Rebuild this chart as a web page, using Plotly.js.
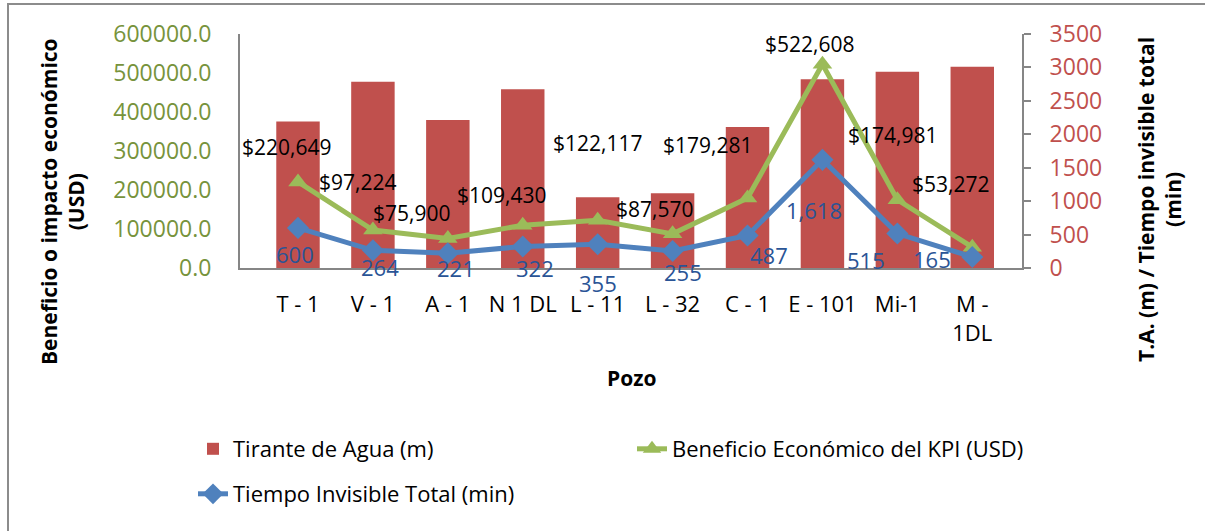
<!DOCTYPE html>
<html>
<head>
<meta charset="utf-8">
<script src="https://cdn.plot.ly/plotly-3.0.1.min.js"></script>
<style>html,body{margin:0;padding:0;background:#fff;}#chart{width:1205px;height:531px;}</style>
</head>
<body>
<div id="chart"></div>
<script>
// ---- data ----
const categories = ["T - 1", "V - 1", "A - 1", "N 1 DL", "L - 11", "L - 32", "C - 1", "E - 101", "Mi-1", "M -<br>1DL"];
const tiranteAgua = [2190, 2787, 2214, 2672, 1057, 1117, 2109, 2822, 2937, 3011];
const beneficio = [220649, 97224, 75900, 109430, 122117, 87570, 179281, 522608, 174981, 53272];
const tiempoInvisible = [600, 264, 221, 322, 355, 255, 487, 1618, 515, 165];
const leftTicks = [0, 100000, 200000, 300000, 400000, 500000, 600000];
const rightTicks = [0, 500, 1000, 1500, 2000, 2500, 3000, 3500];

// ---- label offsets (px) ----
const greenShiftX = [-11, -15, -36, -21, 0, -18, -40, -12, -4, -22];
const greenShiftY = [35, 48, 25, 30, 77, 25, 53, 20, 65, 63];
const blueShiftX = [-3, 7, 8, 12, 0, 10, 21, -8, -31, -40];
const blueShiftY = [-26, -17, -15, -22, -39, -21, -20, -50, -26, -2];

const FONT = "Open Sans, Liberation Sans, sans-serif";
const fmtUSD = v => "$" + v.toLocaleString("en-US");
const fmtNum = v => v.toLocaleString("en-US");

const traces = [
  {type: "bar", name: "Tirante de Agua (m)", x: categories, y: tiranteAgua, yaxis: "y",
   marker: {color: "#C0504D"}, legend: "legend", hoverinfo: "skip"},
  {type: "scatter", mode: "lines+markers", name: "Beneficio Económico del KPI (USD)", x: categories, y: beneficio, yaxis: "y2",
   line: {color: "#9BBB59", width: 5}, marker: {symbol: "triangle-up", size: 17, color: "#9BBB59"}, legend: "legend2"},
  {type: "scatter", mode: "lines+markers", name: "Tiempo Invisible Total (min)", x: categories, y: tiempoInvisible, yaxis: "y3",
   line: {color: "#4F81BD", width: 5}, marker: {symbol: "diamond", size: 17, color: "#4F81BD"}, legend: "legend3"}
];

const annotations = [];
categories.forEach((c, i) => {
  annotations.push({x: c, y: beneficio[i], xref: "x", yref: "y2", text: fmtUSD(beneficio[i]), showarrow: false,
    xanchor: "center", yanchor: "middle",
    xshift: greenShiftX[i], yshift: greenShiftY[i], font: {family: FONT, size: 21, color: "#000"}});
});
categories.forEach((c, i) => {
  annotations.push({x: c, y: tiempoInvisible[i], xref: "x", yref: "y3", text: fmtNum(tiempoInvisible[i]), showarrow: false,
    xanchor: "center", yanchor: "middle",
    xshift: blueShiftX[i], yshift: blueShiftY[i], font: {family: FONT, size: 22, color: "#2A5496"}});
});
// axis titles
annotations.push({xref: "paper", yref: "paper", x: (62 - 240) / 782, y: (268 - 202) / 234, xanchor: "center", yanchor: "middle",
  text: "<b>Beneficio o impacto económico<br>(USD)</b>",
  textangle: -90, showarrow: false, font: {family: FONT, size: 21, color: "#000"}});
annotations.push({xref: "paper", yref: "paper", x: (1160 - 240) / 782, y: (268 - 200) / 234, xanchor: "center", yanchor: "middle",
  text: "<b>T.A. (m) / Tiempo invisible total<br>(min)</b>",
  textangle: -90, showarrow: false, font: {family: FONT, size: 21, color: "#000"}});
annotations.push({xref: "paper", yref: "paper", x: (631 - 240) / 782, y: (268 - 378) / 234, xanchor: "center", yanchor: "middle",
  text: "<b>Pozo</b>", showarrow: false, font: {family: FONT, size: 21, color: "#000"}});

const legendBase = {orientation: "h", xanchor: "left", yanchor: "middle", bgcolor: "rgba(0,0,0,0)",
  font: {family: FONT, size: 22, color: "#000"}};

const layout = {
  width: 1205, height: 531,
  margin: {l: 240, r: 183, t: 34, b: 263},
  paper_bgcolor: "#fff", plot_bgcolor: "#fff",
  bargap: 0.42,
  font: {family: FONT, size: 20, color: "#000"},
  xaxis: {type: "category", showline: true, linecolor: "#868686", linewidth: 2, ticks: "", showgrid: false,
    tickfont: {family: FONT, size: 22, color: "#000"}, ticklabelstandoff: 16, fixedrange: true},
  yaxis: {side: "right", range: [0, 3500], tickvals: rightTicks, showline: true, linecolor: "#868686", linewidth: 2,
    ticks: "outside", ticklen: 7, tickcolor: "#868686", tickwidth: 2, showgrid: false, zeroline: false,
    tickfont: {family: FONT, size: 23, color: "#C0504D"}, ticklabelstandoff: 14},
  yaxis2: {overlaying: "y", side: "left", range: [0, 600000], tickvals: leftTicks,
    ticktext: leftTicks.map(v => v.toFixed(1)), showline: true, linecolor: "#868686", linewidth: 2,
    ticks: "", showgrid: false, zeroline: false, tickfont: {family: FONT, size: 23, color: "#77933C"}, ticklabelstandoff: 22},
  yaxis3: {overlaying: "y", side: "right", range: [0, 3500], visible: false, showgrid: false, zeroline: false},
  showlegend: true,
  legend: Object.assign({}, legendBase, {x: (193 - 240) / 782, y: (268 - 449) / 234}),
  legend2: Object.assign({}, legendBase, {x: (632 - 240) / 782, y: (268 - 449) / 234}),
  legend3: Object.assign({}, legendBase, {x: (193 - 240) / 782, y: (268 - 494) / 234}),
  annotations: annotations,
  shapes: [{type: "rect", xref: "paper", yref: "paper", x0: (8 - 240) / 782, x1: (1215 - 240) / 782,
    y0: (268 - 540) / 234, y1: (268 - 4) / 234, line: {color: "#8C8C8C", width: 2}, fillcolor: "rgba(0,0,0,0)", layer: "below"}]
};

Plotly.newPlot("chart", traces, layout, {displayModeBar: false, staticPlot: true});
</script>
</body>
</html>
